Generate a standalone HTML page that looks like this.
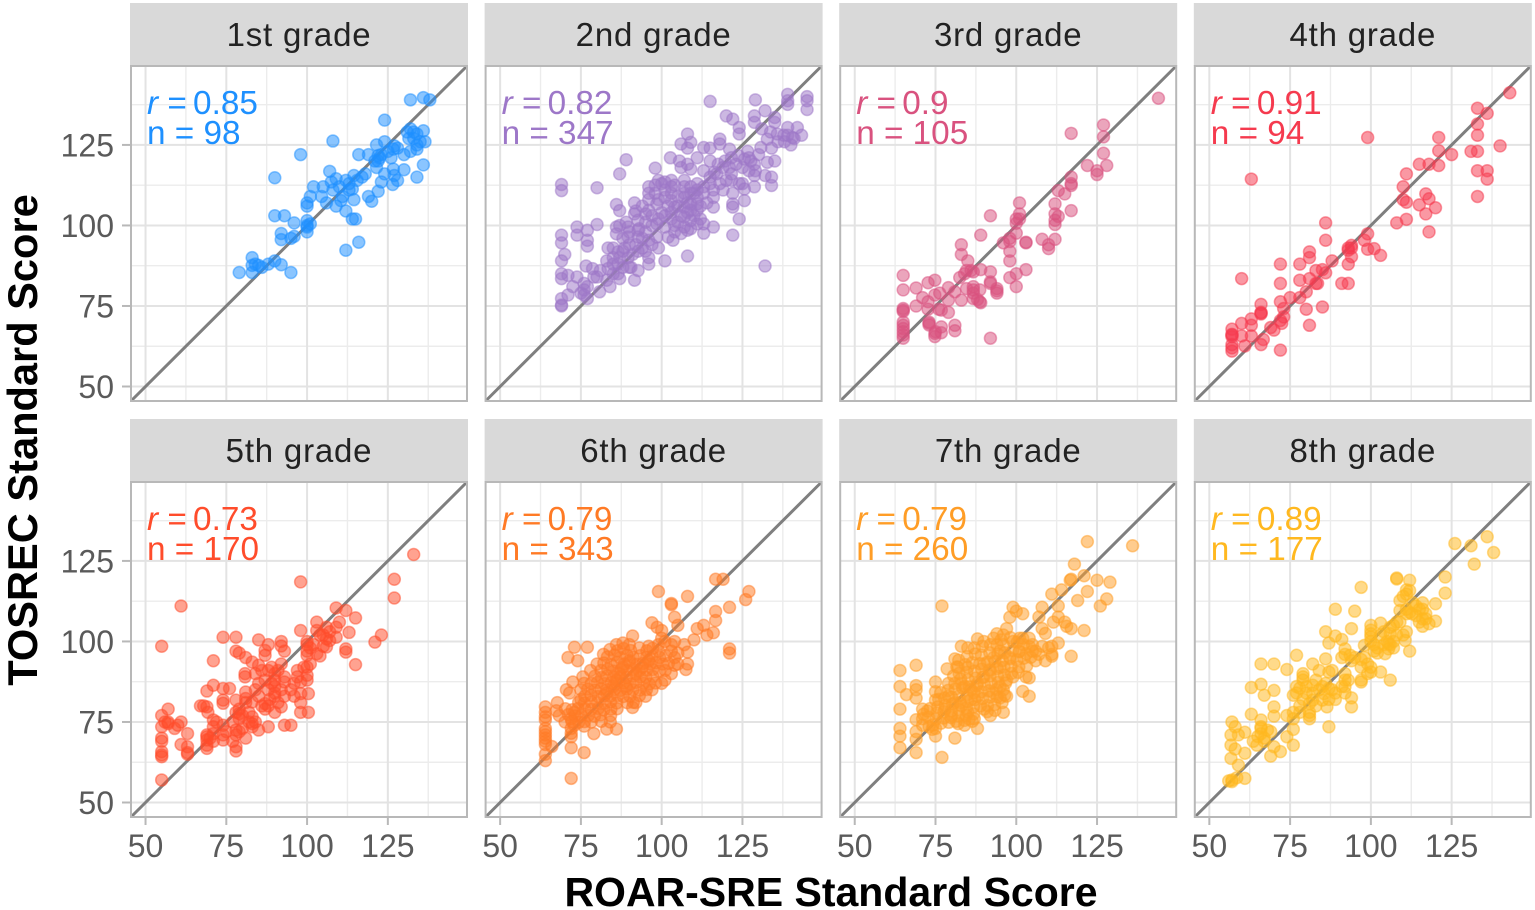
<!DOCTYPE html>
<html lang="en">
<head>
<meta charset="utf-8">
<title>TOSREC vs ROAR-SRE scatter plots by grade</title>
<style>
html,body{margin:0;padding:0;background:#fff;}
svg{display:block;}
text{font-family:"Liberation Sans",sans-serif;}
.g1{fill:#1e90ff;stroke:#1e90ff;}
.g2{fill:#9d77c8;stroke:#9d77c8;}
.g3{fill:#d9527f;stroke:#d9527f;}
.g4{fill:#f53a4e;stroke:#f53a4e;}
.g5{fill:#ff4c2b;stroke:#ff4c2b;}
.g6{fill:#ff7a25;stroke:#ff7a25;}
.g7{fill:#ff9d26;stroke:#ff9d26;}
.g8{fill:#ffb81f;stroke:#ffb81f;}
.pt{fill-opacity:.52;stroke-opacity:.5;stroke-width:1.5;}
.note{stroke:none;font-size:33.3px;}
.tick-label{fill:#5a5a5a;font-size:32px;}
.strip-label{fill:#222;font-size:33px;text-anchor:middle;letter-spacing:.8px;}
.axis-title{fill:#000;font-size:41px;font-weight:bold;text-anchor:middle;}
.y-title{font-size:41.6px;}
</style>
</head>
<body>
<svg id="chart" xmlns="http://www.w3.org/2000/svg" width="1535" height="910" viewBox="0 0 1535 910">
<rect width="1535" height="910" fill="#fff"/>
<text class="axis-title" x="831" y="906">ROAR-SRE Standard Score</text>
<text class="axis-title y-title" transform="translate(37 440) rotate(-90)">TOSREC Standard Score</text>
</svg>
<script>
const grades=["1st grade","2nd grade","3rd grade","4th grade","5th grade","6th grade","7th grade","8th grade"];
const rValues=["0.85","0.82","0.9","0.91","0.73","0.79","0.79","0.89"];
const nValues=["98","347","105","94","170","343","260","177"];
const majorTicks=[50,75,100,125];
const minorTicks=[62.5,87.5,112.5,137.5];
const domain=[45.5,149.5];

const grade1=[[132,139],[136,139.7],[138,139],[124,132.7],[108,126.2],[98,122],[90,114.8],[132,130],[133,129],[136,129.4],[134,128.4],[131.5,127],[136.5,126],[134,125],[132,123],[134,123.7],[130,122],[136,118.8],[134,115],[130,117.3],[121.5,125],[124,126],[127,124.7],[126.7,123.7],[122,121.7],[122.5,121],[116,122],[119,122],[126,121],[121.5,118],[126.7,117.5],[124,116],[127,115.5],[128,114],[123,113.5],[126.5,112.7],[122,110.6],[119,109],[120,107.5],[118,116],[114.5,115.5],[115.5,114],[113,113],[114,111.3],[114.5,108],[107,116.8],[109,114.5],[107.5,113.5],[102,112],[105,112],[101,109],[100,107],[100,106],[104.5,109],[106,107],[108,111],[111,109],[110.5,107.7],[109,106],[112,104.5],[114,102],[115,102],[112,92.3],[116,94.8],[90,103],[93,103],[96,100.8],[100,101.5],[100,99.5],[100,98],[92,97.5],[92,95.6],[96,96.6],[95,96],[83,90],[83,87.6],[85,87.6],[86,87],[88,88],[90,89],[92,87.8],[79,85.4],[83,85.4],[95,85.4],[84,88],[131,129],[133,127],[135,126],[123,122],[122,120],[117,115],[112,114],[110,112],[113,111],[100,100],[101,100.5],[128,124],[125,123],[121,120]];

const grade2=[[115,138.5],[129,139],[139,140.7],[139,138.7],[139,137.6],[145,140],[145,138.7],[145,136],[132,135.6],[128.7,134],[120,134],[122,133],[135,133.5],[135,132],[128.7,132],[124,130.4],[124,128.4],[131,130],[139,130.4],[142,130.4],[143.3,128],[140.5,127.3],[137.8,128],[135.8,128.4],[133.7,129],[132.7,126.8],[140,125],[108,128.4],[106,125.3],[109,125.8],[108,124],[113,124.2],[118,126.8],[118,125.3],[115,124],[121,123.7],[126.6,123],[130.7,124.2],[135,120],[132.7,119.6],[127.6,120],[125.6,120.6],[128.7,119],[102.7,121],[105.5,120],[111,121],[106,118],[108,119],[109,117.5],[115,120],[117.5,119],[119.6,120],[121.6,121],[123.7,121.7],[116.3,116.5],[113,117],[98,117.8],[89,120.4],[87,116],[80,111.7],[69,112.7],[69,110.8],[96,112],[99,114],[103,114],[103,112],[107,112],[111,113],[115,113],[121.6,116],[121.6,114],[124,113],[128.7,115.5],[132,115.5],[134,115],[134,112.4],[128.7,112],[125.6,111.3],[125.6,107.7],[122,106.7],[122,105.7],[124,102],[122,97],[132,87.4],[116,99.5],[116,105.7],[116,108.7],[113,110],[111,108.7],[109,110],[107,108.7],[109,106.7],[111,106.7],[107,105.7],[109,104.7],[111,104.7],[107,102.6],[109,101.5],[111,100.5],[113,100.5],[113,97.6],[108,98.5],[106,97.5],[103,110],[103,107.7],[104,105.7],[101,108.7],[98,110],[98.5,106.7],[96,104.7],[91.6,107],[86,106.5],[87,104.6],[91.6,103.6],[95,103.6],[92.7,101.6],[98.5,100.5],[101,99.5],[104,100],[102,96.4],[103.5,95.4],[108,90.5],[101,89],[96,88],[99,93],[98.5,96.4],[96,95.4],[92.7,98.5],[89.6,99.5],[86,99.5],[86,97.4],[89.6,96.4],[92.7,96.4],[88.5,93],[83.4,93],[86.5,91.8],[89.6,90],[92.7,92],[96,90],[80,100.3],[73.8,99.5],[73.8,97],[77,98.5],[77,95.4],[77,93.6],[69,97],[69,94.6],[70,91],[69,89],[69,85],[69,83.5],[71,84.5],[73.8,84],[76.6,87.4],[78.6,86.6],[80,84],[83.4,86.6],[86.5,88],[86.5,85],[87,83.5],[90.5,87],[92.7,86],[91.6,83],[84,81],[80.8,79.4],[76,82],[76,80],[76,78.4],[77,77.3],[72.5,81],[71,78.4],[69,77.3],[69,75.3],[69,75],[75,79],[77,81],[79,84],[85,88],[87,90],[88,92],[90,94],[92,94],[94,96],[95,98],[97,100],[99,102],[101,103],[103,104],[105,106],[105,109],[107,110],[109,112],[111,111],[113,112],[115,115],[117,116],[119,118],[121,118],[123,119],[125,118],[127,117],[129,117],[101,111],[98,112.5],[96,110],[100,113],[102,106],[100,104],[106,103],[105,101],[108,104],[110,103],[112,102],[114,107],[116,111],[118,113],[120,114],[119,111],[122,110],[125,113],[127,121],[130,122],[134,124],[136,126],[138,126],[141,127],[139,128],[88,96],[90,98],[93,99],[95,101],[97,103],[94,93],[91,91],[85,90],[83,89],[85,93],[90,87],[97,94],[95,92],[81,86],[83,83],[85,85],[88,87],[103,102],[104,98],[107,99.5],[109,99],[108,107],[110,110],[112,106],[107,114],[104,112.5],[101,113.5],[99,108],[96,108],[94,106],[92,104.5],[89,101],[87,100]];

const grade3=[[144,139.5],[127,131.2],[127,127.5],[117,128.6],[127,122.4],[128,118.6],[122,118.6],[125,117],[125,115.8],[117,115],[117,113],[117,112.4],[113,110.8],[115,109.8],[112,106.7],[117,104.6],[112,103.6],[113,102.8],[112,101.6],[112,100.3],[101,107],[101,103.6],[101,102],[100,100.7],[92,103],[89,97],[100,97.6],[98,96],[96,94.6],[103,94.8],[103,94.6],[108,95.7],[112,95.7],[110,94],[110,92.8],[98,92],[98,89],[83,94],[83,91],[85,89],[84.6,86],[86.7,85.6],[89,86.3],[92,85.6],[103,86.3],[100,85],[98,83.8],[100,81],[92,82.5],[94,80.4],[94,79],[82.5,83.8],[86.7,81],[88.7,80],[86.7,79],[88.7,76.3],[89,76],[86.7,77.3],[83,76.8],[84.6,80.4],[81,79.4],[79,80.7],[79,76.8],[74.8,83],[72.7,82.2],[69,80.6],[65,84.5],[65,80],[74.8,78.4],[76.3,79],[71,77.6],[72.7,76.3],[69,75],[72.7,74],[76.8,73.7],[79,73],[65,74.2],[65,73.7],[65,73.3],[65,70],[65,69],[65,68],[65,67],[65,66],[65,65],[73,69.6],[73,69.1],[76.8,68.5],[81,69],[81,67.3],[74.8,66.5],[76.8,66.7],[74.8,65.5],[92,65],[86.7,80],[98,95],[100,102],[76,74],[84,85],[86,86],[92,82],[94,79.7],[88,77],[73,70],[75,67]];

const grade4=[[143,141.2],[133,136.4],[136,134.8],[133,131.5],[133,128],[99,127.3],[121,127.3],[140,124.7],[121,123.2],[125,122],[131,123],[133,123],[115,119],[118,119],[121,118.6],[133,117],[136,117],[136,114.4],[111,116],[110,112],[63,114.4],[133,109],[117,109.8],[118,108.3],[110,108],[111,107.2],[115,106.4],[120,105.5],[117,103.6],[111,101.9],[108,100.8],[118,98],[86,100.8],[86,95.4],[99,97.4],[98,95.4],[99,92.6],[101,92.8],[103,90.7],[94,93.8],[93,92.3],[94,90.3],[93,88],[81,91.8],[81,90],[78,88],[72,88],[88,89],[83,86],[85,86.3],[86,85.3],[81,83.5],[78,83],[72,82],[60,83.5],[91,82],[93,82],[83,82],[80,79.4],[78,77.6],[75,77.6],[72,76.3],[66,75.5],[66,73],[66,72.5],[80,74],[85,74.7],[73,74.2],[73,71.6],[72.4,69.6],[81,69],[63,71],[63,69],[60,69.6],[69,68.3],[70,67.5],[63,65.7],[60,65.7],[57,67.8],[57,66],[57,65.5],[66.7,64.6],[66,63],[61,62.6],[72,61.3],[57,63],[57,62],[57,61],[94,93],[93,93],[83.5,82],[72,70.5],[66,72.8],[57,66.2]];

const grade5=[[133,127],[127,119.3],[127,113.5],[98,118.5],[61,111],[55,98.5],[109,110.4],[112,109.6],[115,107.3],[103,106],[110,106],[109,104.4],[106,104.4],[103,103.4],[98,103.4],[113,102.8],[109,101.3],[106,100.8],[107,100.3],[106,98.3],[123,102],[121,99.8],[112,97.7],[112,96.7],[115,92.8],[103,96.2],[104,95.5],[100,100],[100,99],[100,97],[100,95.7],[101,93],[74,101.3],[78,101.3],[85,100.5],[92,100],[88,99],[87,97.2],[87,95.7],[92,98.6],[93,97],[78,97],[79,96.4],[81,95],[71,94],[83,93.6],[85,92.6],[92,93],[80.8,90],[80.8,89],[88,91],[90,90],[97,89],[100,89.5],[100,88],[98,87.4],[93,87.4],[90,88],[85,87],[90,86],[71,86.4],[69,84.6],[74,85.4],[76,85.4],[81,84.3],[81,82.3],[83,81.2],[88,85],[90,84],[88.5,82],[87,80.7],[87,79],[90,78],[92,79.7],[93,83],[96,83],[98,83.8],[100.4,83.8],[98,81],[98,78],[100.4,78],[74,81.8],[74,80.8],[67,80],[69,79.7],[69.3,78],[78,81.8],[79,79],[79,77.6],[79,76],[81,81],[83,76.6],[83,74.5],[83,73.5],[88,73.5],[93,74],[95,74],[85,72.5],[81,70],[78,72.5],[78,71],[78,67.3],[78,66],[74,74],[74,71],[74,69.4],[71,75.6],[71,73.5],[71,71.4],[69,70.4],[69,69.4],[69,67.8],[69,66.8],[63,71.4],[63,67.3],[63,65.5],[63,65],[61,68],[61,75],[59,73],[57,79],[55,77],[57,75],[55,73.5],[55,70],[55,69],[55,65.8],[55,64.8],[55,64.2],[55,57],[87,88],[89,87],[90,83],[88,80],[86,80],[85,83],[84,85],[82,78],[80,77],[78,78],[77,75],[72,75],[70,70],[71,69],[69,71],[68,80],[84,75],[82,75],[80,73],[79,72],[77,69],[75,72],[84,90],[86,91],[89,92],[91,91],[93,89],[96,87],[97,91],[99,92],[95,85],[92,85],[91,81],[100,92],[101,98],[105,102],[107,103],[102,99],[104,102],[60,74],[56,75],[57,74.5],[105,98.5]];

const grade6=[[116.7,119.3],[119,119.3],[99,115.5],[108,114],[127,115.5],[126,113],[103,111.8],[103,111.4],[121,110.6],[116.7,109.3],[116.7,106.5],[104,107.5],[97,105.8],[105,105],[98.6,104.4],[100,103.4],[113,105],[111,104],[114,102],[116,102.7],[110,100.5],[121,97.7],[121,96.4],[91,101.7],[73,98.2],[77,98.2],[71,95],[74,94],[108,96.7],[108,93],[107.5,91.3],[104,92.6],[104,100],[107,99],[105,96.4],[100,87],[64,79.7],[64,78],[64,76.6],[64,75.6],[64,73],[64,72],[64,71],[64,70],[64,69],[64,68],[66,67.4],[64,65],[64,63],[72,67],[76,65.5],[72,57.5],[72,70.4],[72,73],[79,71.4],[83,72.8],[86,72.8],[76,73.7],[67.7,81],[67.4,78.5],[70.5,85],[72.5,87.4],[75.6,89],[71.5,84],[86.3,97.1],[88.2,97.8],[90.4,97.2],[93.1,98],[95.4,97.1],[97.2,97.9],[99.1,97],[83.2,95.2],[85.4,95.8],[87.1,95],[89.3,95.7],[91.2,95.1],[93.4,95.6],[95.3,95],[97.1,95.4],[99.4,95],[101.2,95.6],[82.1,93.3],[84.3,92.8],[86.2,93.5],[88.4,93],[90.1,93.4],[92.3,92.9],[94.2,93.2],[96.4,93],[98.2,93.4],[100.3,93],[102.1,93.2],[81.2,91],[83.3,91.4],[85.1,90.8],[87.4,91.2],[89.2,91],[91.3,91.3],[93.1,90.9],[95.4,91.1],[97.2,91.3],[99.3,90.8],[101.1,91],[79.3,89.2],[81.4,88.8],[83.1,89.3],[85.2,89],[87.3,89.1],[89.1,88.8],[91.2,89.2],[93.4,89],[95.1,88.9],[97.3,89.1],[78.2,87],[80.1,87.3],[82.3,86.9],[84.4,87.2],[86.1,87],[88.2,87.1],[90.3,86.8],[92.1,87.3],[94.4,87],[96.2,86.8],[98.1,87.1],[77.1,85.2],[79.3,84.9],[81.2,85.3],[83.1,85],[85.4,85.1],[87.2,84.8],[89.3,85.2],[91.1,85],[93.2,84.9],[95.3,85.1],[76.2,83],[78.1,83.3],[80.3,82.9],[82.2,83.1],[84.1,83],[86.3,83.2],[88.1,82.9],[90.2,83],[93.1,83.2],[74.3,81.1],[76.1,80.9],[78.2,81.2],[80.1,81],[82.4,80.8],[84.2,81.2],[86.1,80.9],[89.3,81],[91.2,81.1],[70.2,79.1],[72.3,78.8],[74.1,79.2],[76.3,79],[78.2,78.9],[80.4,79.2],[82.1,78.8],[84.3,79],[86.2,79.1],[68.3,77],[71.1,77.3],[73.2,76.9],[75.1,77.1],[77.3,77],[79.2,76.8],[81.1,77.2],[84.2,77],[70.1,75],[72.2,75.2],[74.3,74.9],[76.1,75.1],[78.2,75],[81.3,75.2],[84.1,75],[87,90],[88,92],[90,94],[85,86],[83,84],[86,88],[89,86],[92,90],[94,92],[96,94],[72,76],[73,74],[72,71.5],[73,78],[75,82],[75,85],[76,87],[78,91],[80,93],[82,96],[84,97.5],[86,99],[88,99.5],[90,99],[96,98.5],[99,99],[103,97],[104,95],[105,93],[103,90],[101,88],[97,85],[95,83],[92,81],[91,79.5],[103,99],[101,100],[100,101]];

const grade7=[[122,131],[136,129.7],[118,124],[121,120.4],[125,119],[129,118.4],[117,119.3],[116.7,119],[114,116],[111,114.7],[122,115.5],[119,112.7],[128,113.2],[126,111],[77,111],[113,111],[108,110.6],[99,110.6],[100,109.4],[102,108.6],[107,107.6],[98,107.5],[113,107.6],[111.5,106],[115,106],[115.6,104.7],[117,104],[121,103.4],[108,104],[109,102.5],[113,99.5],[108,98.5],[111,98.5],[111,95.4],[109,94],[117,95.4],[104,101],[97,104],[94,102.4],[96,102],[88,100.8],[102,101],[104,88.7],[103,89],[102,84.5],[104,83],[96,78],[92,77],[88,73],[81,70],[77,64],[69,65.5],[64,67],[64,70.6],[64,73],[69,69.6],[69,72],[75,70.6],[75,73],[64,79],[64,86],[64,91],[69,92.6],[69,86.3],[69,85],[66,83.5],[69,82.4],[69,75.7],[71,74],[71,79],[75,87.4],[75,84.4],[75,81.8],[78.6,91.5],[81,94.6],[83,98.5],[85,98],[89.5,98.5],[92,99],[95.3,100.5],[98.2,101.2],[100.3,99.8],[102.2,99],[104.1,98.4],[103.1,96.2],[100.9,96.8],[98.9,97.2],[96.4,96.5],[94.3,96.1],[91.8,96.5],[89.2,95.8],[87.3,96.1],[84.8,95.3],[82.2,94.2],[81.6,92.1],[84.2,92.8],[86.4,93.4],[88.7,93.1],[91.1,93.6],[93.4,93.8],[95.7,94.1],[98.1,94.6],[100.2,94.3],[102.3,94.8],[104.5,95.1],[103.2,92.4],[100.8,92.1],[98.4,92.3],[96.2,92],[94.1,91.6],[91.7,91.2],[89.3,91.4],[87.1,90.8],[84.7,90.4],[82.3,90.1],[80.6,89.3],[82.8,88.3],[85.1,88.1],[87.4,88.6],[89.6,88.8],[91.9,89.3],[94.2,89.1],[96.3,89.6],[98.5,90.1],[100.6,90.4],[96.7,87.1],[94.4,87.3],[92.2,87],[90.1,86.6],[87.8,86.3],[85.5,85.9],[83.4,85.6],[81.1,85.2],[78.9,84.8],[76.6,84.1],[77.8,82.4],[80,82.7],[82.3,83.1],[84.8,83.5],[86.9,84.1],[89.2,84.4],[91.5,84.7],[93.8,85.1],[96,85],[96.4,83.3],[94.1,82.8],[91.8,82.7],[89.6,82.3],[87.2,81.9],[84.9,81.4],[82.6,81],[80.3,80.6],[78,80.2],[75.7,79.7],[73.4,79.2],[75.4,77.8],[77.6,78.2],[79.9,78.5],[82.2,78.9],[84.6,79.4],[86.8,79.7],[88.9,80],[91.1,80.1],[93.3,80.4],[95.6,81],[93.4,78.6],[91,78.2],[86.8,77.5],[84.5,77],[82.1,76.9],[79.8,76.4],[77.5,76.2],[75.1,75.9],[72.8,76.5],[74.2,74.1],[76.7,74.6],[79.1,74.9],[81.4,75.2],[84,75.5],[85.4,75.9],[86.4,75.2],[71.3,77.4],[72.5,78.4],[71,76],[74,72.7],[73,73.6],[90,79],[95,92],[98,95],[101,97],[105,99],[92,91],[90,89],[88,87],[86,85],[84,86],[86,82],[88,83],[93,84],[95,86],[97,88],[99,89],[90,93],[93,95],[95,97],[87,98],[90,100],[93,101],[94,99],[96,99],[99,100],[101,101],[105,97],[106,97],[107,96],[110,98],[111,96],[106,94],[97,83],[95,82.5],[79,83],[81,81],[83,80],[85,78],[87,76],[81,87],[79,87],[83,87],[85,92],[82,92],[76,82],[78,79],[80,77],[82,74.5],[84,74]];

const grade8=[[136,132.5],[126,130.4],[131,129.7],[138,127.6],[132,124],[123,120],[123,115],[108,119.7],[108,119.4],[112,119],[97,116.8],[112,115.8],[111,114.7],[109,112.7],[120,111.7],[116,112],[89,110],[95,109.4],[109,109.6],[111,108.6],[112.7,108.6],[116,110],[117,108.6],[115,106],[116,104.7],[118,105.5],[120,106.3],[103,105.7],[100,105],[94,104],[86,103],[89,101.7],[91,100.6],[87,99.5],[106,104.4],[106,102.4],[100,102.4],[100,101.4],[111,103],[110.6,100.3],[112,97],[105.5,99.3],[105.5,97.7],[104.4,96.2],[102,96.4],[98,98.8],[92,97.7],[91,95],[93.6,95.7],[97,94.4],[86,94.6],[77,95.7],[66,93],[70,93],[74,91.3],[82,93],[87,90.5],[79,90],[79,88],[92,88],[97,87.4],[100,90.5],[103,90.5],[106,88],[63,85.7],[66,86.7],[67,83.3],[70,84.8],[76,83.3],[77,86],[82,86.4],[87,85.4],[85.5,83.8],[92,84],[94,82.5],[94,79.7],[86.4,79.7],[81,80.7],[82,81.8],[85,81.8],[70,79.7],[70,76.8],[63,77.4],[66,75.6],[74,77],[76,78],[81,76],[87,73.5],[76,72.7],[74,70.4],[76,67.8],[72,65.8],[69,64.4],[70,67.3],[66,73.5],[66,71.4],[69,72],[63.6,69],[64.7,67.8],[67,69],[57,75],[58,73.5],[61,71.8],[59,71],[56.7,71],[56.7,67.8],[58,66.6],[61,65.3],[56.7,63.7],[59,61.6],[61,57.5],[58.5,57.7],[57,56.5],[57,57],[56,56.7],[66,73],[68,72.5],[67,70],[65,70.5],[76,76],[78,78],[78,80],[79,89],[80,84],[82,84],[84,85],[85,86],[86,87],[88,85],[89,84],[89,82],[87,82],[83,80],[81,78],[81,77],[79,82],[80,86],[83,88],[84,91],[88,91],[92,86],[91,86],[93,88],[92,90],[97,88],[99,90],[100,92],[97,92],[94,94],[95,95],[98,95],[99,93],[101,99],[100,100],[104,99],[105,100],[106,99],[107,98],[107,100],[108,102],[110,102],[103,102],[102,98],[101,97],[104,103],[112,109],[114,108],[116,107],[111,110],[114,111],[117,107],[108,106],[107,105],[109,106],[113,112],[115,110],[110,114],[111,116],[100,103.5],[92,96],[77,84],[78,85.5]];

const gradeSeries=[grade1,grade2,grade3,grade4,grade5,grade6,grade7,grade8];

const svgNS="http://www.w3.org/2000/svg";
const chart=document.getElementById("chart");
const panelW=336,panelH=335,stripH=63;

function panelLeft(i){return 131+(i%4)*354.6;}
function panelTop(i){return 66+Math.floor(i/4)*416;}
function xAxis(v,i){return panelLeft(i)+(v-domain[0])/(domain[1]-domain[0])*panelW;}
function yAxis(v,i){return panelTop(i)+panelH-(v-domain[0])/(domain[1]-domain[0])*panelH;}
function make(tag,parent){const e=document.createElementNS(svgNS,tag);parent.appendChild(e);return e;}
function line(parent,x1,y1,x2,y2,color,width){
  const e=make("line",parent);
  e.setAttribute("x1",x1);e.setAttribute("y1",y1);e.setAttribute("x2",x2);e.setAttribute("y2",y2);
  e.setAttribute("stroke",color);e.setAttribute("stroke-width",width);
  return e;
}

gradeSeries.forEach(function(points,i){
  const L=panelLeft(i),T=panelTop(i);
  const group=make("g",chart);
  
  

  const strip=make("rect",group);
  strip.setAttribute("x",L-1);strip.setAttribute("y",T-stripH);strip.setAttribute("width",panelW+2);strip.setAttribute("height",stripH);strip.setAttribute("fill","#d9d9d9");
  
  

  const title=make("text",group);
  title.setAttribute("class","strip-label");title.setAttribute("x",L+panelW/2);title.setAttribute("y",T-20);
  title.textContent=grades[i];
  
  

  const grid=make("g",group);
  
  
  minorTicks.forEach(function(t){
    line(grid,xAxis(t,i),T,xAxis(t,i),T+panelH,"#ececec",1.4);
    line(grid,L,yAxis(t,i),L+panelW,yAxis(t,i),"#ececec",1.4);
  });
  majorTicks.forEach(function(t){
    line(grid,xAxis(t,i),T,xAxis(t,i),T+panelH,"#e3e3e3",2);
    line(grid,L,yAxis(t,i),L+panelW,yAxis(t,i),"#e3e3e3",2);
  });

  const ref=line(group,xAxis(domain[0],i),yAxis(domain[0],i),xAxis(domain[1],i),yAxis(domain[1],i),"#7f7f7f",3);
  
  

  points.forEach(function(p){
    const c=make("circle",group);
    c.setAttribute("class","pt g"+(i+1));
    c.setAttribute("cx",xAxis(p[0],i));c.setAttribute("cy",yAxis(p[1],i));c.setAttribute("r",6);
    
    
  });

  const border=make("rect",group);
  border.setAttribute("x",L);border.setAttribute("y",T);border.setAttribute("width",panelW);border.setAttribute("height",panelH);
  border.setAttribute("fill","none");border.setAttribute("stroke","#b8b8b8");border.setAttribute("stroke-width",2);
  
  

  const rNote=make("text",group);
  rNote.setAttribute("class","note g"+(i+1));rNote.setAttribute("x",L+16);rNote.setAttribute("y",T+48);
  const rItalic=make("tspan",rNote);
  rItalic.setAttribute("font-style","italic");rItalic.textContent="r";
  const rEq=make("tspan",rNote);
  rEq.textContent=" = ";
  const rVal=make("tspan",rNote);
  rVal.setAttribute("dx","-3");rVal.textContent=rValues[i];
  
  

  const nNote=make("text",group);
  nNote.setAttribute("class","note g"+(i+1));nNote.setAttribute("x",L+16);nNote.setAttribute("y",T+78);
  nNote.textContent="n = "+nValues[i];
  
  

  if(i%4===0){
    majorTicks.forEach(function(t){
      const y=yAxis(t,i);
      const m=line(group,L-9,y,L-1,y,"#b8b8b8",2);
      
      
      const lab=make("text",group);
      lab.setAttribute("class","tick-label");lab.setAttribute("text-anchor","end");lab.setAttribute("x",L-17);lab.setAttribute("y",y+11.5);
      lab.textContent=t;
      
      
    });
  }
  if(i>=4){
    majorTicks.forEach(function(t){
      const x=xAxis(t,i);
      const m=line(group,x,T+panelH+1,x,T+panelH+8,"#b8b8b8",2);
      
      
      const lab=make("text",group);
      lab.setAttribute("class","tick-label");lab.setAttribute("text-anchor","middle");lab.setAttribute("x",x);lab.setAttribute("y",857);
      lab.textContent=t;
      
      
    });
  }
});
</script>
</body>
</html>
